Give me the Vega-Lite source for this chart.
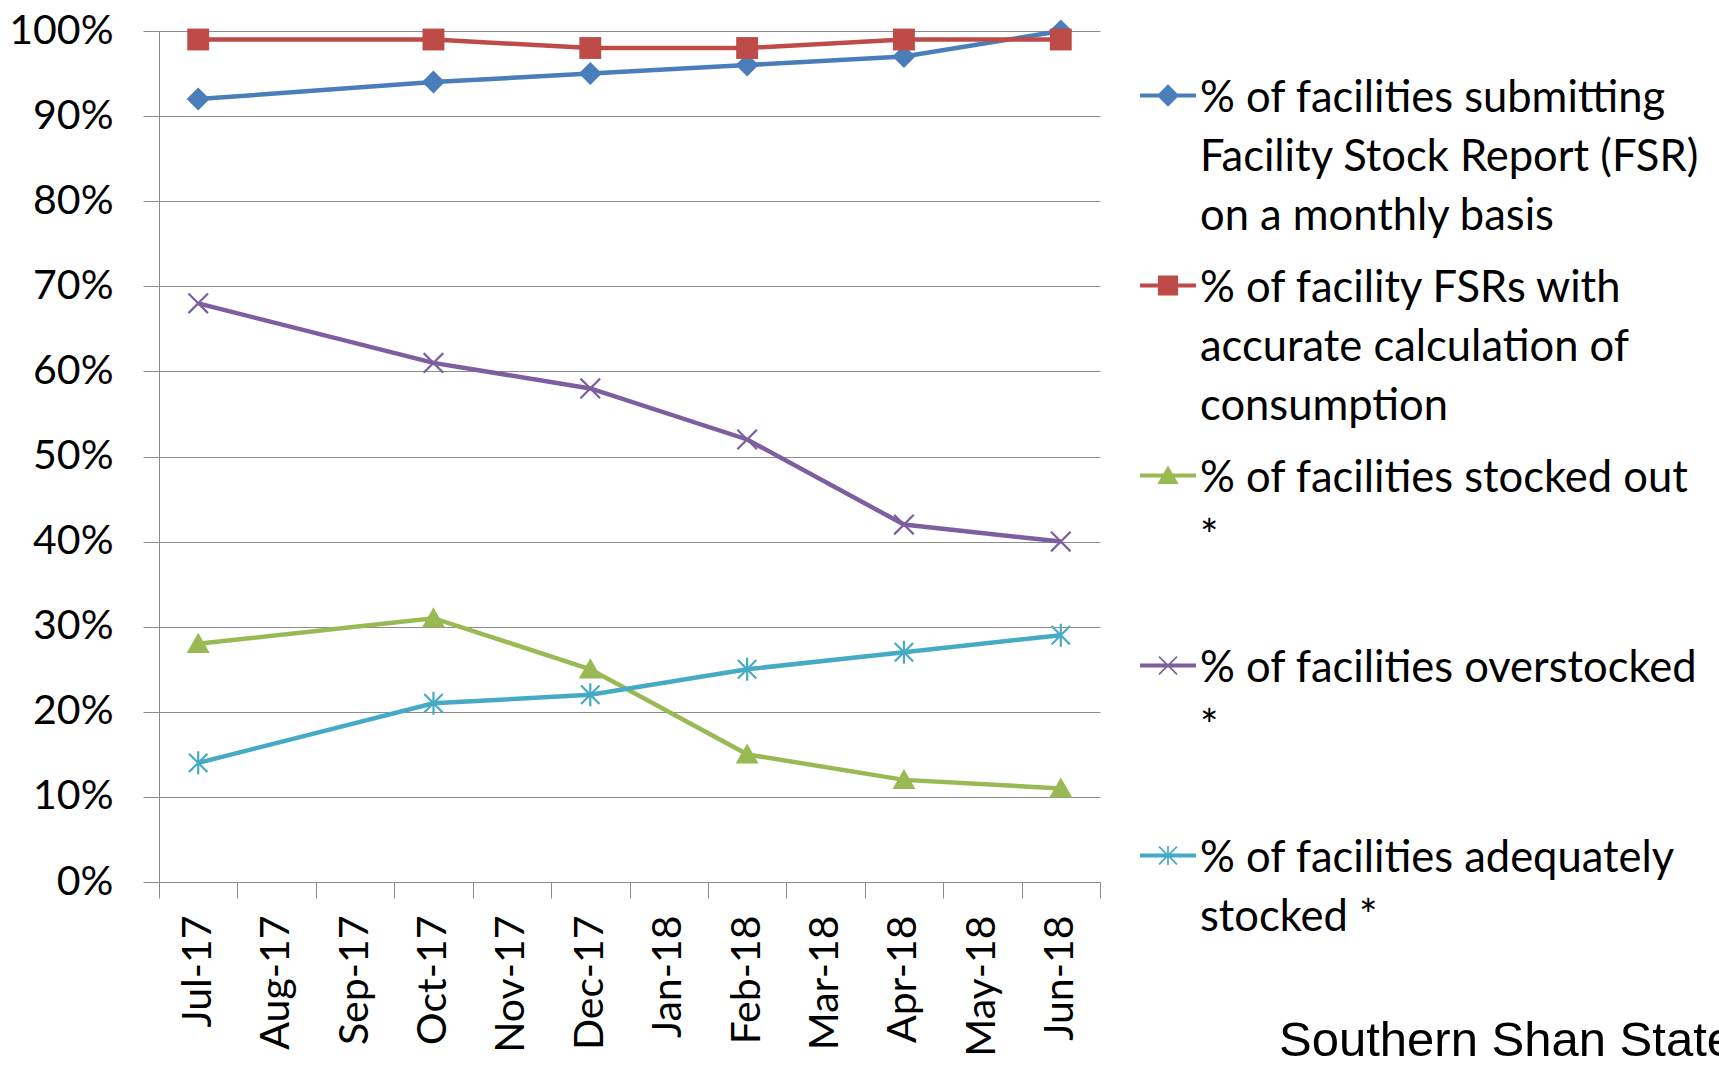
{
  "$schema": "https://vega.github.io/schema/vega-lite/v6.json",
  "autosize": "none",
  "width": 941,
  "height": 851,
  "padding": {"left": 159, "top": 31, "right": 619, "bottom": 184},
  "background": "white",
  "config": {"view": {"stroke": null}, "font": "Lato"},
  "title": {
    "text": "Southern Shan State",
    "orient": "bottom",
    "anchor": "end",
    "frame": "group",
    "font": "Liberation Sans",
    "fontSize": 49,
    "fontWeight": "normal",
    "color": "black",
    "dx": 634,
    "dy": -39,
    "offset": 0
  },
  "data": {
    "values": [
      {"month": "Jul-17", "series": "% of facilities submitting Facility Stock Report (FSR) on a monthly basis", "value": 0.92},
      {"month": "Oct-17", "series": "% of facilities submitting Facility Stock Report (FSR) on a monthly basis", "value": 0.94},
      {"month": "Dec-17", "series": "% of facilities submitting Facility Stock Report (FSR) on a monthly basis", "value": 0.95},
      {"month": "Feb-18", "series": "% of facilities submitting Facility Stock Report (FSR) on a monthly basis", "value": 0.96},
      {"month": "Apr-18", "series": "% of facilities submitting Facility Stock Report (FSR) on a monthly basis", "value": 0.97},
      {"month": "Jun-18", "series": "% of facilities submitting Facility Stock Report (FSR) on a monthly basis", "value": 1.0},
      {"month": "Jul-17", "series": "% of facility FSRs with accurate calculation of consumption", "value": 0.99},
      {"month": "Oct-17", "series": "% of facility FSRs with accurate calculation of consumption", "value": 0.99},
      {"month": "Dec-17", "series": "% of facility FSRs with accurate calculation of consumption", "value": 0.98},
      {"month": "Feb-18", "series": "% of facility FSRs with accurate calculation of consumption", "value": 0.98},
      {"month": "Apr-18", "series": "% of facility FSRs with accurate calculation of consumption", "value": 0.99},
      {"month": "Jun-18", "series": "% of facility FSRs with accurate calculation of consumption", "value": 0.99},
      {"month": "Jul-17", "series": "% of facilities stocked out *", "value": 0.28},
      {"month": "Oct-17", "series": "% of facilities stocked out *", "value": 0.31},
      {"month": "Dec-17", "series": "% of facilities stocked out *", "value": 0.25},
      {"month": "Feb-18", "series": "% of facilities stocked out *", "value": 0.15},
      {"month": "Apr-18", "series": "% of facilities stocked out *", "value": 0.12},
      {"month": "Jun-18", "series": "% of facilities stocked out *", "value": 0.11},
      {"month": "Jul-17", "series": "% of facilities overstocked *", "value": 0.68},
      {"month": "Oct-17", "series": "% of facilities overstocked *", "value": 0.61},
      {"month": "Dec-17", "series": "% of facilities overstocked *", "value": 0.58},
      {"month": "Feb-18", "series": "% of facilities overstocked *", "value": 0.52},
      {"month": "Apr-18", "series": "% of facilities overstocked *", "value": 0.42},
      {"month": "Jun-18", "series": "% of facilities overstocked *", "value": 0.40},
      {"month": "Jul-17", "series": "% of facilities adequately stocked *", "value": 0.14},
      {"month": "Oct-17", "series": "% of facilities adequately stocked *", "value": 0.21},
      {"month": "Dec-17", "series": "% of facilities adequately stocked *", "value": 0.22},
      {"month": "Feb-18", "series": "% of facilities adequately stocked *", "value": 0.25},
      {"month": "Apr-18", "series": "% of facilities adequately stocked *", "value": 0.27},
      {"month": "Jun-18", "series": "% of facilities adequately stocked *", "value": 0.29}
    ]
  },
  "encoding": {
    "x": {
      "field": "month",
      "type": "ordinal",
      "bandPosition": 0.5,
      "scale": {
        "type": "band",
        "domain": ["Jul-17", "Aug-17", "Sep-17", "Oct-17", "Nov-17", "Dec-17", "Jan-18", "Feb-18", "Mar-18", "Apr-18", "May-18", "Jun-18"],
        "paddingInner": 0,
        "paddingOuter": 0
      },
      "axis": {
        "title": null,
        "labelAngle": -90,
        "labelFont": "Lato",
        "labelFontSize": 41,
        "labelColor": "black",
        "labelPadding": 17,
        "tickSize": 16,
        "tickBand": "extent",
        "tickExtra": true,
        "tickColor": "#8c8c8c",
        "domainColor": "#8c8c8c",
        "grid": false,
        "labelOverlap": false
      }
    },
    "y": {
      "field": "value",
      "type": "quantitative",
      "scale": {"domain": [0, 1], "nice": false},
      "axis": {
        "title": null,
        "values": [0, 0.1, 0.2, 0.3, 0.4, 0.5, 0.6, 0.7, 0.8, 0.9, 1.0],
        "format": ".0%",
        "labelFont": "Lato",
        "labelFontSize": 41,
        "labelColor": "black",
        "labelPadding": 30,
        "tickSize": 16,
        "tickColor": "#8c8c8c",
        "domainColor": "#8c8c8c",
        "grid": true,
        "gridColor": "#8c8c8c",
        "gridWidth": 1
      }
    },
    "color": {
      "field": "series",
      "type": "nominal",
      "scale": {
        "domain": [
          "% of facilities submitting Facility Stock Report (FSR) on a monthly basis",
          "% of facility FSRs with accurate calculation of consumption",
          "% of facilities stocked out *",
          "% of facilities overstocked *",
          "% of facilities adequately stocked *"
        ],
        "range": ["#4A7EBB", "#BE4B48", "#98B954", "#7D5FA0", "#46AAC5"]
      },
      "legend": {
        "orient": "none",
        "legendX": 981,
        "legendY": 36.5,
        "title": null,
        "padding": 0,
        "symbolSize": 3136,
        "labelFont": "Lato",
        "labelFontSize": 43.5,
        "labelColor": "black",
        "labelLimit": 800,
        "labelOffset": 4,
        "labelBaseline": "top",
        "rowPadding": 19,
        "labelExpr": "datum.index == 0 ? ['% of facilities submitting', 'Facility Stock Report (FSR)', 'on a monthly basis'] : datum.index == 1 ? ['% of facility FSRs with', 'accurate  calculation of', 'consumption'] : datum.index == 2 ? ['% of facilities stocked out', '*', ' '] : datum.index == 3 ? ['% of facilities overstocked', '*', ' '] : ['% of facilities adequately', 'stocked *', ' ']",
        "encode": {
          "symbols": {
            "update": {
              "shape": {"signal": "datum.index == 0 ? 'M-1,-0.07V0.07H1V-0.07Z M0,-0.4L-0.4,0L0,0.4L0.4,0Z' : datum.index == 1 ? 'M-1,-0.07V0.07H1V-0.07Z M-0.36,-0.36V0.36H0.36V-0.36Z' : datum.index == 2 ? 'M-1,-0.07V0.07H1V-0.07Z M0,-0.36L-0.38,0.3H0.38Z' : datum.index == 3 ? 'M-1,-0.07V0.07H1V-0.07Z M-0.341,-0.299L0.299,0.341L0.341,0.299L-0.299,-0.341Z M-0.299,0.341L0.341,-0.299L0.299,-0.341L-0.341,0.299Z' : 'M-1,-0.07V0.07H1V-0.07Z M-0.341,-0.299L0.299,0.341L0.341,0.299L-0.299,-0.341Z M-0.299,0.341L0.341,-0.299L0.299,-0.341L-0.341,0.299Z M-0.03,-0.34V0.34H0.03V-0.34Z'"},
              "size": {"value": 3136},
              "fill": {"scale": "color", "field": "value"},
              "stroke": {"value": "transparent"},
              "strokeWidth": {"value": 0},
              "opacity": {"value": 1},
              "fillOpacity": {"value": 1}
            }
          },
          "labels": {
            "update": {
              "dy": {"value": -18},
              "lineHeight": {"value": 59}
            }
          }
        }
      }
    }
  },
  "layer": [
    {"mark": {"type": "line", "strokeWidth": 4.5}},
    {
      "transform": [{"filter": {"field": "series", "equal": "% of facilities submitting Facility Stock Report (FSR) on a monthly basis"}}],
      "mark": {"type": "point", "filled": true, "opacity": 1, "size": 530, "shape": "M0,-1L1,0L0,1L-1,0Z"}
    },
    {
      "transform": [{"filter": {"field": "series", "equal": "% of facility FSRs with accurate calculation of consumption"}}],
      "mark": {"type": "point", "filled": true, "opacity": 1, "size": 530, "shape": "M-0.95,-0.95H0.95V0.95H-0.95Z"}
    },
    {
      "transform": [{"filter": {"field": "series", "equal": "% of facilities stocked out *"}}],
      "mark": {"type": "point", "filled": true, "opacity": 1, "size": 530, "shape": "M0,-0.95L1,0.8H-1Z"}
    },
    {
      "transform": [{"filter": {"field": "series", "equal": "% of facilities overstocked *"}}],
      "mark": {"type": "point", "filled": true, "opacity": 1, "size": 530, "shape": "M-0.917,-0.783L0.783,0.917L0.917,0.783L-0.783,-0.917Z M-0.783,0.917L0.917,-0.783L0.783,-0.917L-0.917,0.783Z"}
    },
    {
      "transform": [{"filter": {"field": "series", "equal": "% of facilities adequately stocked *"}}],
      "mark": {"type": "point", "filled": true, "opacity": 1, "size": 530, "shape": "M-0.867,-0.733L0.733,0.867L0.867,0.733L-0.733,-0.867Z M-0.733,0.867L0.867,-0.733L0.733,-0.867L-0.867,0.733Z M-0.095,-1V1H0.095V-1Z"}
    }
  ]
}
